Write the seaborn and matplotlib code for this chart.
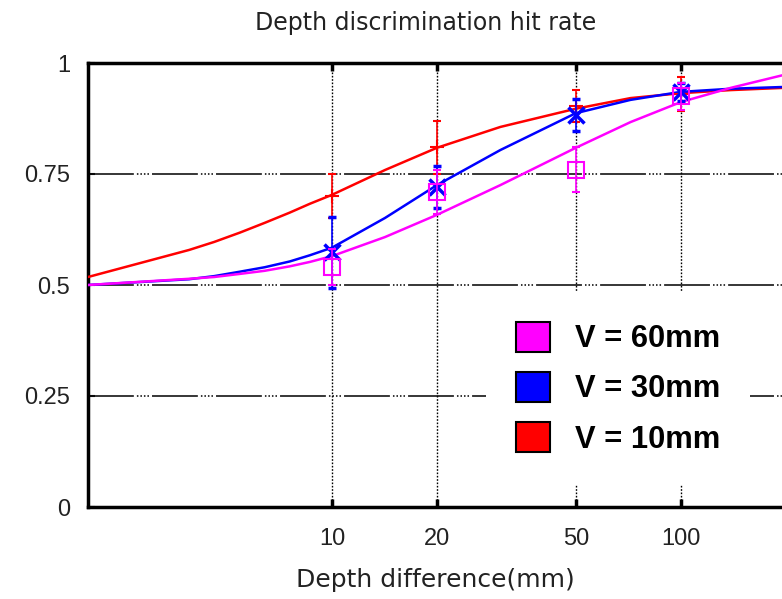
import numpy as np
import pandas as pd
import matplotlib
matplotlib.use("Agg")
import matplotlib.pyplot as plt
from matplotlib.patches import Patch
from matplotlib.ticker import FixedLocator, FixedFormatter, NullLocator
import seaborn as sns

# ---- data ----
series_names = ["V = 60mm", "V = 30mm", "V = 10mm"]
series_colors = ["#ff00ff", "#0000ff", "#ff0000"]

# fitted curves (sampled)
curve_x = [2.0, 3.9, 4.6, 5.45, 6.42, 7.57, 8.65, 10.0, 14.2, 20.0, 30.4, 50.0, 71.8, 100.0, 139.0, 197.0]
curve_60 = [0.500, 0.514, 0.518, 0.525, 0.532, 0.542, 0.552, 0.565, 0.608, 0.658, 0.725, 0.809, 0.867, 0.912, 0.944, 0.973]
curve_30 = [0.500, 0.513, 0.520, 0.530, 0.540, 0.553, 0.567, 0.584, 0.651, 0.725, 0.804, 0.887, 0.917, 0.935, 0.942, 0.946]
curve_10 = [0.518, 0.579, 0.597, 0.618, 0.640, 0.663, 0.683, 0.703, 0.759, 0.809, 0.856, 0.897, 0.921, 0.932, 0.939, 0.944]

# measured points with error bars
point_x = [10, 20, 50, 100]
pts_60 = [0.540, 0.710, 0.760, 0.925]
err_60 = [0.040, 0.050, 0.050, 0.030]
pts_30 = [0.574, 0.720, 0.883, 0.935]
err_30 = [0.080, 0.047, 0.036, 0.020]
pts_10 = [0.700, 0.810, 0.903, 0.930]
err_10 = [0.050, 0.060, 0.037, 0.038]

xtick_vals = [10, 20, 50, 100]
xtick_labels = ["10", "20", "50", "100"]
ytick_vals = [0, 0.25, 0.5, 0.75, 1]
ytick_labels = ["0", "0.25", "0.5", "0.75", "1"]

title = "Depth discrimination hit rate"
xlabel = "Depth difference(mm)"

# ---- styling ----
sns.set_style("white")
plt.rcParams["font.family"] = ["Liberation Sans", "DejaVu Sans"]
text_color = "#222222"

fig = plt.figure(figsize=(7.82, 5.99), dpi=100)
ax = fig.add_axes([88 / 782, 1 - 507 / 599, (782 - 88) / 782 + 0.002, (507 - 63) / 599])

ax.set_xscale("log")
ax.set_xlim(2.0, 197.0)
ax.set_ylim(0, 1)

# grid lines (gnuplot-like)
for yv in [0.25, 0.5, 0.75]:
    ax.axhline(yv, color="black", lw=1.1,
               linestyle=(0, (30, 2, 1, 1.3, 1, 1.3, 1, 1.3, 1, 2)), zorder=1)
for xv in xtick_vals:
    ax.axvline(xv, color="black", lw=1.0, linestyle=(0, (1.2, 1.2)), zorder=1)

curves = pd.DataFrame({
    "x": curve_x * 3,
    "y": curve_10 + curve_30 + curve_60,
    "series": [series_names[2]] * len(curve_x) + [series_names[1]] * len(curve_x)
              + [series_names[0]] * len(curve_x),
})
palette = dict(zip(series_names, series_colors))
sns.lineplot(data=curves, x="x", y="y", hue="series", palette=palette,
             sort=False, legend=False, lw=1.8, ax=ax, zorder=3)

# error bars + markers (red, blue, pink order)
ax.errorbar(point_x, pts_10, yerr=err_10, fmt="+", color=series_colors[2],
            ms=10, mew=1.5, elinewidth=1.2, capsize=3, capthick=1.2, zorder=4)
ax.errorbar(point_x, pts_30, yerr=err_30, fmt="x", color=series_colors[1],
            ms=11, mew=2.5, elinewidth=1.2, capsize=3, capthick=1.2, zorder=5)
ax.errorbar(point_x, pts_60, yerr=err_60, fmt="s", color=series_colors[0],
            mfc="none", ms=11, mew=1.5, elinewidth=1.2, capsize=3, capthick=1.2, zorder=6)

# ticks
ax.xaxis.set_major_locator(FixedLocator(xtick_vals))
ax.xaxis.set_major_formatter(FixedFormatter(xtick_labels))
ax.xaxis.set_minor_locator(NullLocator())
ax.set_yticks(ytick_vals)
ax.set_yticklabels(ytick_labels)
ax.tick_params(axis="x", which="major", direction="in", length=6, width=2.5,
               top=True, bottom=True, labelsize=17, pad=15, colors="black",
               labelcolor=text_color)
ax.tick_params(axis="y", which="major", direction="in", length=5, width=1.5,
               left=True, labelsize=17, pad=13, labelcolor=text_color)

for side in ["left", "bottom", "top"]:
    ax.spines[side].set_color("black")
    ax.spines[side].set_linewidth(2.5)
ax.spines["right"].set_visible(False)

ax.set_title(title, fontsize=17, pad=24, x=0.486, color=text_color,
             family=["DejaVu Sans"])
ax.set_xlabel(xlabel, fontsize=18, labelpad=13, color=text_color,
              family=["DejaVu Sans"])
ax.set_ylabel("")

handles = [Patch(facecolor=c, edgecolor="black", lw=1.5) for c in series_colors]
leg = ax.legend(handles, series_names, loc="upper left",
                bbox_to_anchor=(0.572, 0.484), borderaxespad=0.0,
                frameon=True, fancybox=False,
                facecolor="white", edgecolor="none", framealpha=1,
                prop={"weight": "bold", "size": 22.2},
                handlelength=1.1, handleheight=1.1, labelspacing=0.58,
                handletextpad=0.81, borderpad=0.97)
for t in leg.get_texts():
    t.set_color("black")
leg.set_zorder(10)

fig.savefig("out.png", dpi=100)
